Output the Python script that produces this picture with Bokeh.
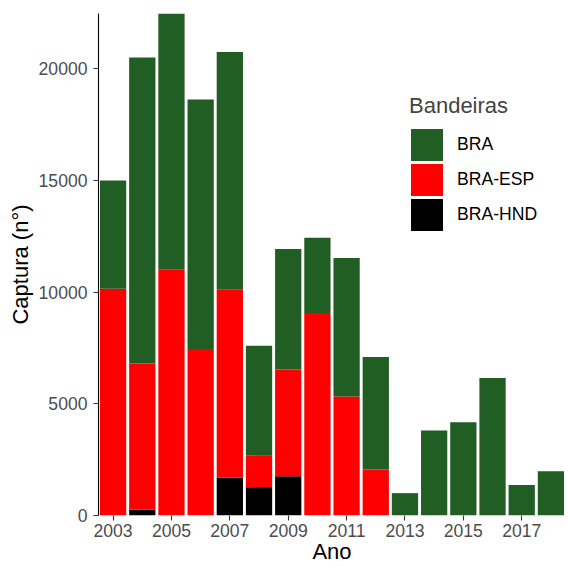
from bokeh.embed import file_html
from bokeh.models import ColumnDataSource, FixedTicker, Legend, LegendItem
from bokeh.plotting import figure
from bokeh.resources import INLINE

# captura anual por bandeira
years = list(range(2003, 2019))
bra = [4850, 13700, 11470, 11170, 10650, 4900, 5400, 3370, 6200, 5030,
       1000, 3810, 4170, 6150, 1370, 1980]
bra_esp = [10150, 6540, 11000, 7450, 8400, 1430, 4770, 9060, 5330, 2060,
           0, 0, 0, 0, 0, 0]
bra_hnd = [0, 260, 0, 0, 1700, 1270, 1760, 0, 0, 0,
           0, 0, 0, 0, 0, 0]

series = ["BRA-HND", "BRA-ESP", "BRA"]
colors = {"BRA": "#215e24", "BRA-ESP": "#ff0000", "BRA-HND": "#000000"}
x_ticks = [2003, 2005, 2007, 2009, 2011, 2013, 2015, 2017]
y_ticks = [0, 5000, 10000, 15000, 20000]

totals = [a + b + c for a, b, c in zip(bra, bra_esp, bra_hnd)]

src = ColumnDataSource(data={"year": years, "BRA": bra,
                             "BRA-ESP": bra_esp, "BRA-HND": bra_hnd})

FONT = "Liberation Sans"

p = figure(width=566, height=566,
           x_range=(years[0] - 0.5, years[-1] + 0.5),
           y_range=(0, max(totals)),
           output_backend="svg", toolbar_location=None,
           min_border_left=98, min_border_right=1,
           min_border_top=13, min_border_bottom=50,
           outline_line_color=None, background_fill_color="white",
           x_axis_label="Ano", y_axis_label="Captura (n°)")

bar_colors = [colors[s] for s in series]
p.vbar_stack(series, x="year", width=0.9, source=src,
             color=bar_colors, line_color=None)

# hidden copy used only for the legend keys: the thick outline makes up for
# the 10% inset of bar legend glyphs (32px squares, ~3px white gaps)
hidden = p.vbar_stack(series, x="year", width=0.9, source=src,
                      fill_color=bar_colors, line_color=bar_colors,
                      line_width=4, line_join="miter", visible=False)
rmap = dict(zip(series, hidden))

p.xgrid.grid_line_color = None
p.ygrid.grid_line_color = None

p.xaxis.ticker = FixedTicker(ticks=x_ticks)
p.yaxis.ticker = FixedTicker(ticks=y_ticks)

for ax in (p.xaxis[0], p.yaxis[0]):
    ax.minor_tick_line_color = None
    ax.major_tick_in = 0
    ax.major_tick_out = 5
    ax.major_tick_line_color = "#333333"
    ax.major_tick_line_width = 1.1
    ax.major_label_text_font = FONT
    ax.major_label_text_font_size = "17.6px"
    ax.major_label_text_color = "#4d4d4d"
    ax.axis_label_text_font = FONT
    ax.axis_label_text_font_size = "22px"
    ax.axis_label_text_font_style = "normal"
    ax.axis_label_text_color = "black"

p.xaxis.axis_line_color = None
p.xaxis.major_label_standoff = 3
p.xaxis.axis_label_standoff = -1
p.yaxis.axis_line_color = "black"
p.yaxis.axis_line_width = 1.1
p.yaxis.major_label_standoff = 6
p.yaxis.axis_label_standoff = 3

legend = Legend(
    items=[LegendItem(label=s, renderers=[rmap[s]]) for s in ["BRA", "BRA-ESP", "BRA-HND"]],
    title="Bandeiras", location=(311, 283),
    glyph_width=35, glyph_height=35, spacing=0, label_standoff=13,
    padding=0, margin=0, border_line_color=None, background_fill_alpha=0,
    inactive_fill_alpha=0,
    title_text_font=FONT, title_text_font_size="22px", title_text_font_style="normal",
    title_standoff=8,
    label_text_font=FONT, label_text_font_size="17.6px", label_text_color="black",
)
p.add_layout(legend)

open("out.html", "w").write(file_html(p, INLINE))
